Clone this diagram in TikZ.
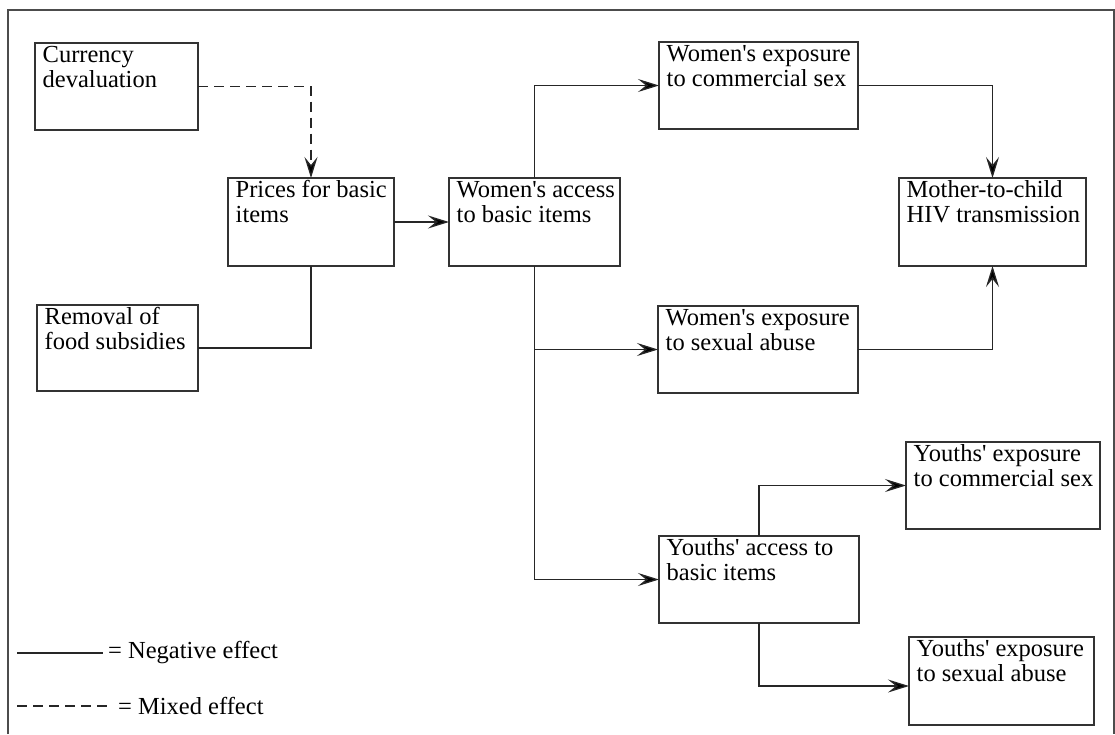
\documentclass[tikz,border=0pt]{standalone}
\usepackage{fontspec}
\setmainfont{Liberation Serif}
\newfontfamily\diagfont{Liberation Serif}
\usetikzlibrary{arrows.meta}
\newcommand{\twolines}[2]{\begin{tabular}{@{}l@{}}#1\\#2\end{tabular}}

\begin{document}
\begin{tikzpicture}[x=1pt, y=-1pt,
  box/.style={draw=black!80, line width=1.4pt, outer sep=0pt, anchor=north west},
  boxtext/.style={anchor=north west, inner xsep=7.5pt, inner ysep=2.5pt,
    font=\diagfont\fontsize{24.5}{24.5}\selectfont},
  legtext/.style={anchor=west, inner xsep=5pt, font=\diagfont\fontsize{24.5}{24.5}\selectfont},
  link/.style={draw=black!85, line width=1.3pt},
  tip/.style={-{Stealth[length=21pt, width=13pt, inset=8pt, fill=black]}},
  mixed/.style={dash pattern=on 10pt off 6pt}]
\useasboundingbox (0,0) rectangle (1115,734);

% frame
\draw[draw=black!70, line width=1.3pt] (8,734) -- (8,10) -- (1114,10) -- (1114,734);

% boxes
\node[box, minimum width=163, minimum height=87] (cur) at (35,43) {};
\node[boxtext] (cur-t) at (cur.north west) {\twolines{Currency}{devaluation}};

\node[box, minimum width=166, minimum height=88] (prc) at (228,178) {};
\node[boxtext] (prc-t) at (prc.north west) {\twolines{Prices for basic}{items}};

\node[box, minimum width=161, minimum height=86] (rem) at (37,305) {};
\node[boxtext] (rem-t) at (rem.north west) {\twolines{Removal of}{food subsidies}};

\node[box, minimum width=171, minimum height=88] (wac) at (449,178) {};
\node[boxtext] (wac-t) at (wac.north west) {\twolines{Women\textquotesingle s access}{to basic items}};

\node[box, minimum width=199, minimum height=87] (wec) at (659,42) {};
\node[boxtext] (wec-t) at (wec.north west) {\twolines{Women\textquotesingle s exposure}{to commercial sex}};

\node[box, minimum width=187, minimum height=88] (mtc) at (899,178) {};
\node[boxtext] (mtc-t) at (mtc.north west) {\twolines{Mother-to-child}{HIV transmission}};

\node[box, minimum width=200, minimum height=87] (wes) at (658,306) {};
\node[boxtext] (wes-t) at (wes.north west) {\twolines{Women\textquotesingle s exposure}{to sexual abuse}};

\node[box, minimum width=194, minimum height=87] (yec) at (906,442) {};
\node[boxtext] (yec-t) at (yec.north west) {\twolines{Youths\textquotesingle{} exposure}{to commercial sex}};

\node[box, minimum width=200, minimum height=87] (yac) at (659,536) {};
\node[boxtext] (yac-t) at (yac.north west) {\twolines{Youths\textquotesingle{} access to}{basic items}};

\node[box, minimum width=185, minimum height=88] (yes) at (909,637) {};
\node[boxtext] (yes-t) at (yes.north west) {\twolines{Youths\textquotesingle{} exposure}{to sexual abuse}};

% connectors
\draw[link, mixed, tip] (cur.east) -| (prc.north);
\draw[link] (rem.east) -| (prc.south);
\draw[link, tip] (prc.east) -- (wac.west);
\draw[link, tip] (wac.north) |- (wec.west);
\draw[link, tip] (wac.south) |- (yac.west);
\draw[link, tip] (wac.south |- wes.west) -- (wes.west);
\draw[link, tip] (wec.east) -| (mtc.north);
\draw[link, tip] (wes.east) -| (mtc.south);
\draw[link, tip] (yac.north) |- (yec.west);
\draw[link, tip] (yac.south) |- ([yshift=-5pt]yes.west);

% legend
\coordinate (neg-a) at (17,653);
\node[legtext] (neg) at (103,653) {= Negative effect};
\draw[link] (neg-a) -- (neg.west);

\coordinate (mix-a) at (17,706);
\node[legtext] (mix) at (113,706) {= Mixed effect};
\draw[link, mixed] (mix-a) -- (mix.west);

\end{tikzpicture}
\end{document}
